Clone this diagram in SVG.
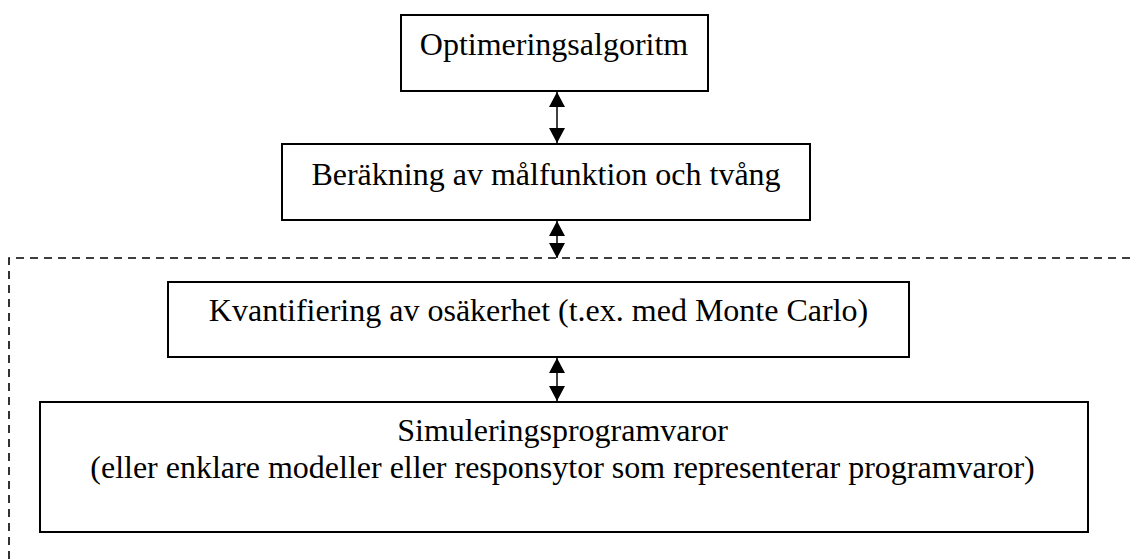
<svg xmlns="http://www.w3.org/2000/svg" width="1130" height="559" viewBox="0 0 1130 559">
<style>
.box{fill:#fff;stroke:#000;stroke-width:2}
.t{font-family:"Liberation Serif","Times New Roman",serif;font-size:32px;fill:#000;text-anchor:middle}
.c{stroke:#000;stroke-width:1.5;fill:none}
.dash{stroke:#000;stroke-width:1.6;fill:none;stroke-dasharray:8 6}
</style>
<defs>
<marker id="ah" viewBox="0 0 15 16" refX="15" refY="8" markerWidth="15" markerHeight="16" markerUnits="userSpaceOnUse" orient="auto-start-reverse">
<path d="M0,0 L15,8 L0,16 Z" fill="#000"/>
</marker>
</defs>
<g id="boundary">
<path class="dash" d="M9,559 L9,258 L1130,258"/>
</g>
<g id="n1">
<rect class="box" x="401" y="15" width="307" height="76"/>
<text class="t" x="554" y="55">Optimeringsalgoritm</text>
</g>
<g id="n2">
<rect class="box" x="282" y="144" width="528" height="76"/>
<text class="t" x="546" y="185">Beräkning av målfunktion och tvång</text>
</g>
<g id="n3">
<rect class="box" x="168" y="282" width="741" height="75"/>
<text class="t" x="538.5" y="321">Kvantifiering av osäkerhet (t.ex. med Monte Carlo)</text>
</g>
<g id="n4">
<rect class="box" x="40" y="402" width="1048" height="130"/>
<text class="t" x="562.5" y="441">Simuleringsprogramvaror</text>
<text class="t" x="562.5" y="478">(eller enklare modeller eller responsytor som representerar programvaror)</text>
</g>
<g id="connectors">
<line class="c" x1="557" y1="92" x2="557" y2="143" marker-start="url(#ah)" marker-end="url(#ah)"/>
<line class="c" x1="557" y1="221" x2="557" y2="258" marker-start="url(#ah)" marker-end="url(#ah)"/>
<line class="c" x1="557" y1="358" x2="557" y2="401" marker-start="url(#ah)" marker-end="url(#ah)"/>
</g>
</svg>
